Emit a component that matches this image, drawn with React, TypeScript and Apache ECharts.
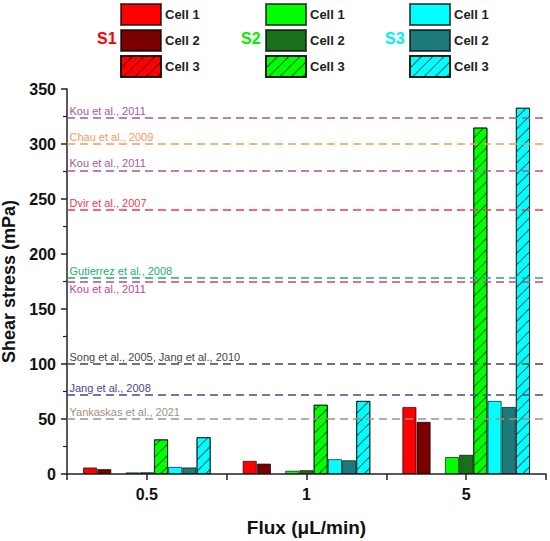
import React, { useEffect, useRef } from "react";
import * as echarts from "echarts";

const fluxCategories = ["0.5", "1", "5"];
const seriesNames = [
  "S1 Cell 1", "S1 Cell 2", "S1 Cell 3",
  "S2 Cell 1", "S2 Cell 2", "S2 Cell 3",
  "S3 Cell 1", "S3 Cell 2", "S3 Cell 3",
];
const s1Cell1 = [6, 12, 61];
const s1Cell2 = [4.5, 9.5, 47.5];
const s1Cell3 = [null, null, null];
const s2Cell1 = [1.5, 3, 15.5];
const s2Cell2 = [1.6, 3.5, 17.5];
const s2Cell3 = [31.5, 63, 315];
const s3Cell1 = [6.5, 13.5, 66.5];
const s3Cell2 = [6, 12.5, 61];
const s3Cell3 = [33.5, 66.5, 333];
const seriesValues = [s1Cell1, s1Cell2, s1Cell3, s2Cell1, s2Cell2, s2Cell3, s3Cell1, s3Cell2, s3Cell3];
const seriesColors = ["#FF0000", "#7A0000", "#FF0000", "#00FF00", "#1A701A", "#00FF00", "#00FFFF", "#1E7B7B", "#00FFFF"];
const hatched = [false, false, true, false, false, true, false, false, true];

const refNames = [
  "Kou et al., 2011", "Chau et al., 2009", "Kou et al., 2011", "Dvir et al., 2007",
  "Gutierrez et al., 2008", "Kou et al., 2011", "Song et al., 2005, Jang et al., 2010",
  "Jang et al., 2008", "Yankaskas et al., 2021",
];
const refValues = [324, 300, 276, 240, 178.5, 175, 100, 72, 50];
const refColors = ["#A8559E", "#F59A55", "#A8559E", "#F03A50", "#20B070", "#C0468A", "#454545", "#484890", "#A09085"];
const refLabelBelow = [false, false, false, false, false, true, false, false, false];

const yTicks = { min: 0, max: 350, interval: 50 };

const FONT = 'Arial, "Liberation Sans", Helvetica, sans-serif';

export default function App() {
  const ref = useRef<HTMLDivElement>(null);
  useEffect(() => {
    if (!ref.current) return;
    const chart = echarts.init(ref.current, null, { renderer: "svg" });
    const series: any[] = seriesNames.map((name, i) => {
      const s: any = {
        name,
        type: "bar",
        data: seriesValues[i],
        barGap: "0%",
        barCategoryGap: "20%",
        itemStyle: {
          color: seriesColors[i],
          borderColor: "rgba(0,0,0,0.65)",
          borderWidth: 1,
          decal: hatched[i]
            ? {
                symbol: "rect",
                symbolSize: 1,
                dashArrayX: [1, 0],
                dashArrayY: [1, 6.5],
                rotation: -Math.PI / 4,
                color: "rgba(0,0,0,0.6)",
              }
            : "none",
        },
        emphasis: { disabled: true },
      };
      if (i === 0) {
        s.markLine = {
          silent: true,
          symbol: "none",
          animation: false,
          data: refNames.map((n, k) => ({
            name: n,
            yAxis: refValues[k],
            lineStyle: { color: refColors[k], type: [8, 5], width: 1.5 },
            label: {
              show: true,
              position: refLabelBelow[k] ? "insideStartBottom" : "insideStartTop",
              formatter: "{b}",
              color: refColors[k],
              fontFamily: FONT,
              fontSize: 11,
              distance: [2.5, 1.5],
            },
          })),
        };
      }
      return s;
    });

    const legendCommon = {
      orient: "vertical",
      top: 3,
      itemWidth: 40,
      itemHeight: 21,
      itemGap: 3,
      padding: 0,
      icon: "rect",
      selectedMode: false,
      formatter: (n: string) => n.split(" ").slice(1).join(" "),
      textStyle: { fontFamily: FONT, fontSize: 13, fontWeight: "bold", color: "#222", padding: [0, 0, 0, -1] },
    };

    chart.setOption({
      animation: false,
      aria: { enabled: false },
      legend: [
        { ...legendCommon, left: 120, data: seriesNames.slice(0, 3) },
        { ...legendCommon, left: 265, data: seriesNames.slice(3, 6) },
        { ...legendCommon, left: 409, data: seriesNames.slice(6, 9) },
      ],
      graphic: [
        { type: "text", left: 97, top: 30, style: { text: "S1", fill: "#FF0000", font: `bold 16px ${FONT}` } },
        { type: "text", left: 241, top: 30, style: { text: "S2", fill: "#00EE00", font: `bold 16px ${FONT}` } },
        { type: "text", left: 385, top: 30, style: { text: "S3", fill: "#00F0F0", font: `bold 16px ${FONT}` } },
      ],
      grid: { left: 67, right: 4, top: 89, bottom: 67, containLabel: false, outerBoundsMode: "none" },
      xAxis: [
        {
          type: "category",
          data: fluxCategories,
          position: "bottom",
          name: "Flux (μL/min)",
          nameLocation: "middle",
          nameGap: 44,
          nameTextStyle: { fontFamily: FONT, fontSize: 19, fontWeight: "bold", color: "#111" },
          axisLine: { show: true, lineStyle: { color: "#222", width: 1.5 } },
          axisTick: { show: false },
          axisLabel: { fontFamily: FONT, fontSize: 16, fontWeight: "bold", color: "#111", margin: 12 },
          splitLine: { show: false },
        },
        {
          type: "category",
          data: ["a", "b", "c", "d", "e", "f"],
          position: "bottom",
          axisLine: { show: false },
          axisTick: { show: true, interval: 0, length: 6, lineStyle: { color: "#222", width: 1.5 } },
          axisLabel: { show: false },
          splitLine: { show: false },
        },
      ],
      yAxis: {
        type: "value",
        min: yTicks.min,
        max: yTicks.max,
        interval: yTicks.interval,
        name: "Shear stress (mPa)",
        nameLocation: "middle",
        nameGap: 46,
        nameTextStyle: { fontFamily: FONT, fontSize: 18, fontWeight: "bold", color: "#111" },
        axisLine: { show: true, lineStyle: { color: "#222", width: 1.5 } },
        axisTick: { show: true, length: 6, lineStyle: { color: "#222", width: 1.5 } },
        minorTick: { show: true, splitNumber: 2, length: 4, lineStyle: { color: "#222", width: 1.2 } },
        axisLabel: { fontFamily: FONT, fontSize: 16, fontWeight: "bold", color: "#111", margin: 11 },
        splitLine: { show: false },
      },
      series,
    });
    return () => chart.dispose();
  }, []);
  return <div ref={ref} style={{ position: "fixed", left: 0, top: 0, width: 550, height: 541, background: "#fff" }} />;
}
